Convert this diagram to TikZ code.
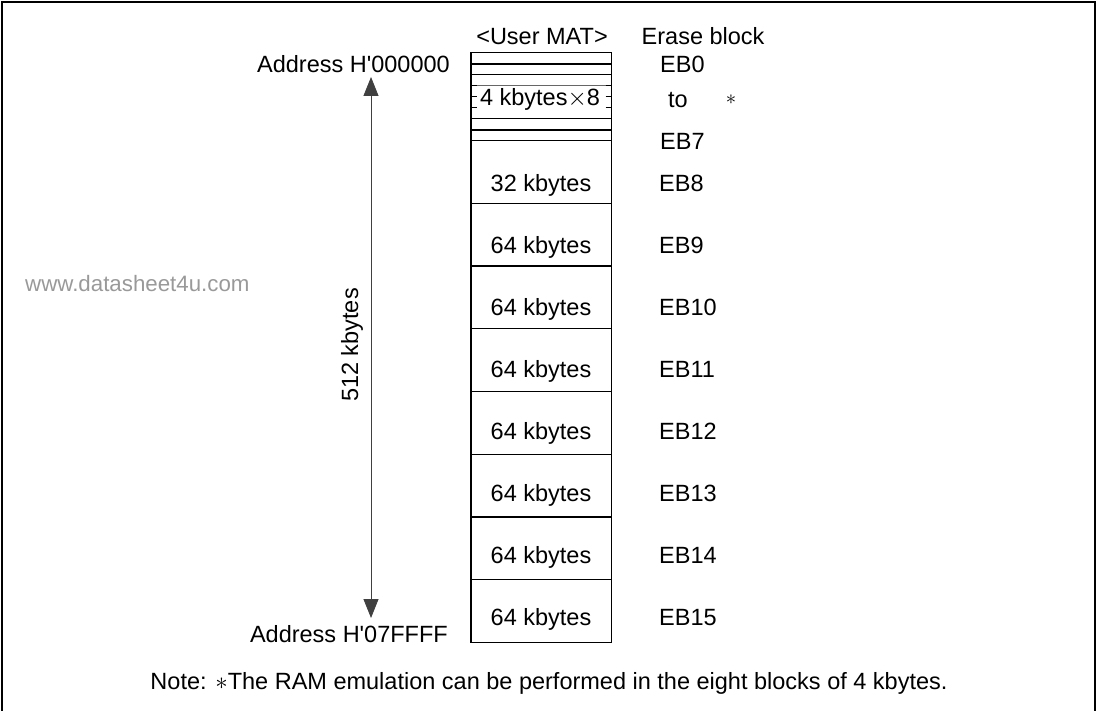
\documentclass[tikz,border=0pt]{standalone}
\usepackage{fontspec}
\setmainfont{Liberation Sans}
\newfontfamily\plainquote{Liberation Sans}
\usetikzlibrary{arrows.meta}
\newcommand{\apo}{{\plainquote\char"0027\relax}}
\begin{document}
\begin{tikzpicture}[x=1pt,y=-1pt,
  txt/.style={font=\fontsize{23.5}{28}\selectfont, inner sep=0pt, anchor=base},
  blk/.style={line width=1.3pt},
  arr/.style={line width=0.9pt, black!75, {Triangle[length=19pt,width=15pt]}-{Triangle[length=19pt,width=15pt]}}]
\useasboundingbox (0,0) rectangle (1100,711);
% frame
\draw[line width=2.5pt] (2,711) -- (2,2) -- (1095,2) -- (1095,711);
% user MAT box
\draw[blk] (471,52.7) rectangle (611.5,642.3);
\foreach \y in {74.7,118.7,140.7}
  \draw[blk] (471,\y) -- (611.5,\y);
\foreach \y in {63.7,129.7}
  \draw[line width=2.1pt] (471,\y) -- (611.5,\y);
\draw[line width=0.6pt, black!60] (471,85.7) -- (611.5,85.7);
\foreach \y in {85.7,96.7,107.7}{
  \draw[blk] (471,\y) -- (477,\y);
  \draw[blk] (605.5,\y) -- (611.5,\y);
}
\foreach \k in {1,...,7}
  \draw[blk] (471,140.7+62.7*\k) -- (611.5,140.7+62.7*\k);
% headers
\node[txt, anchor=base] (mat) at (542,45) {<User MAT>};
\node[txt, anchor=base west] (erase) at (641.5,45) {Erase block};
% small block labels
\node[txt, anchor=base west] (eb0) at (660,73) {EB0};
\node[txt] (to) at (678,108) {to};
\node[txt, anchor=base west] (eb7) at (660,150) {EB7};
\node[inner sep=0pt, font=\fontsize{22.5}{27}\selectfont] (star) at (731,100) {$\ast$};
\node[txt] (fourk) at (540,106) {4 kbytes$\times$8};
% big blocks
\node[txt] (k8) at (541,192) {32 kbytes};
\node[txt, anchor=base west] (e8) at (659,192) {EB8};
\foreach \k/\n in {1/9,2/10,3/11,4/12,5/13,6/14,7/15}{
  \node[txt] (k\n) at (541,192+61.9*\k) {64 kbytes};
  \node[txt, anchor=base west] (e\n) at (659,192+61.9*\k) {EB\n};
}
% addresses
\node[txt, anchor=base east] (a0) at (450,73) {Address H\apo 000000};
\node[txt, anchor=base east] (a1) at (448,642) {Address H\apo 07FFFF};
\coordinate (atop) at (371,77);
\coordinate (abot) at (371,618);
\draw[arr] (atop) -- (abot);
\node[txt, anchor=center, rotate=90] (size) at (352,345) {512 kbytes};
% watermark
\node[txt, anchor=base west, text=black!40, font=\fontsize{22.3}{27}\selectfont] (wm) at (25,291) {www.datasheet4u.com};
% note
\node[txt] (note) at (549,689) {Note: $\ast$The RAM emulation can be performed in the eight blocks of 4 kbytes.};
\end{tikzpicture}
\end{document}
